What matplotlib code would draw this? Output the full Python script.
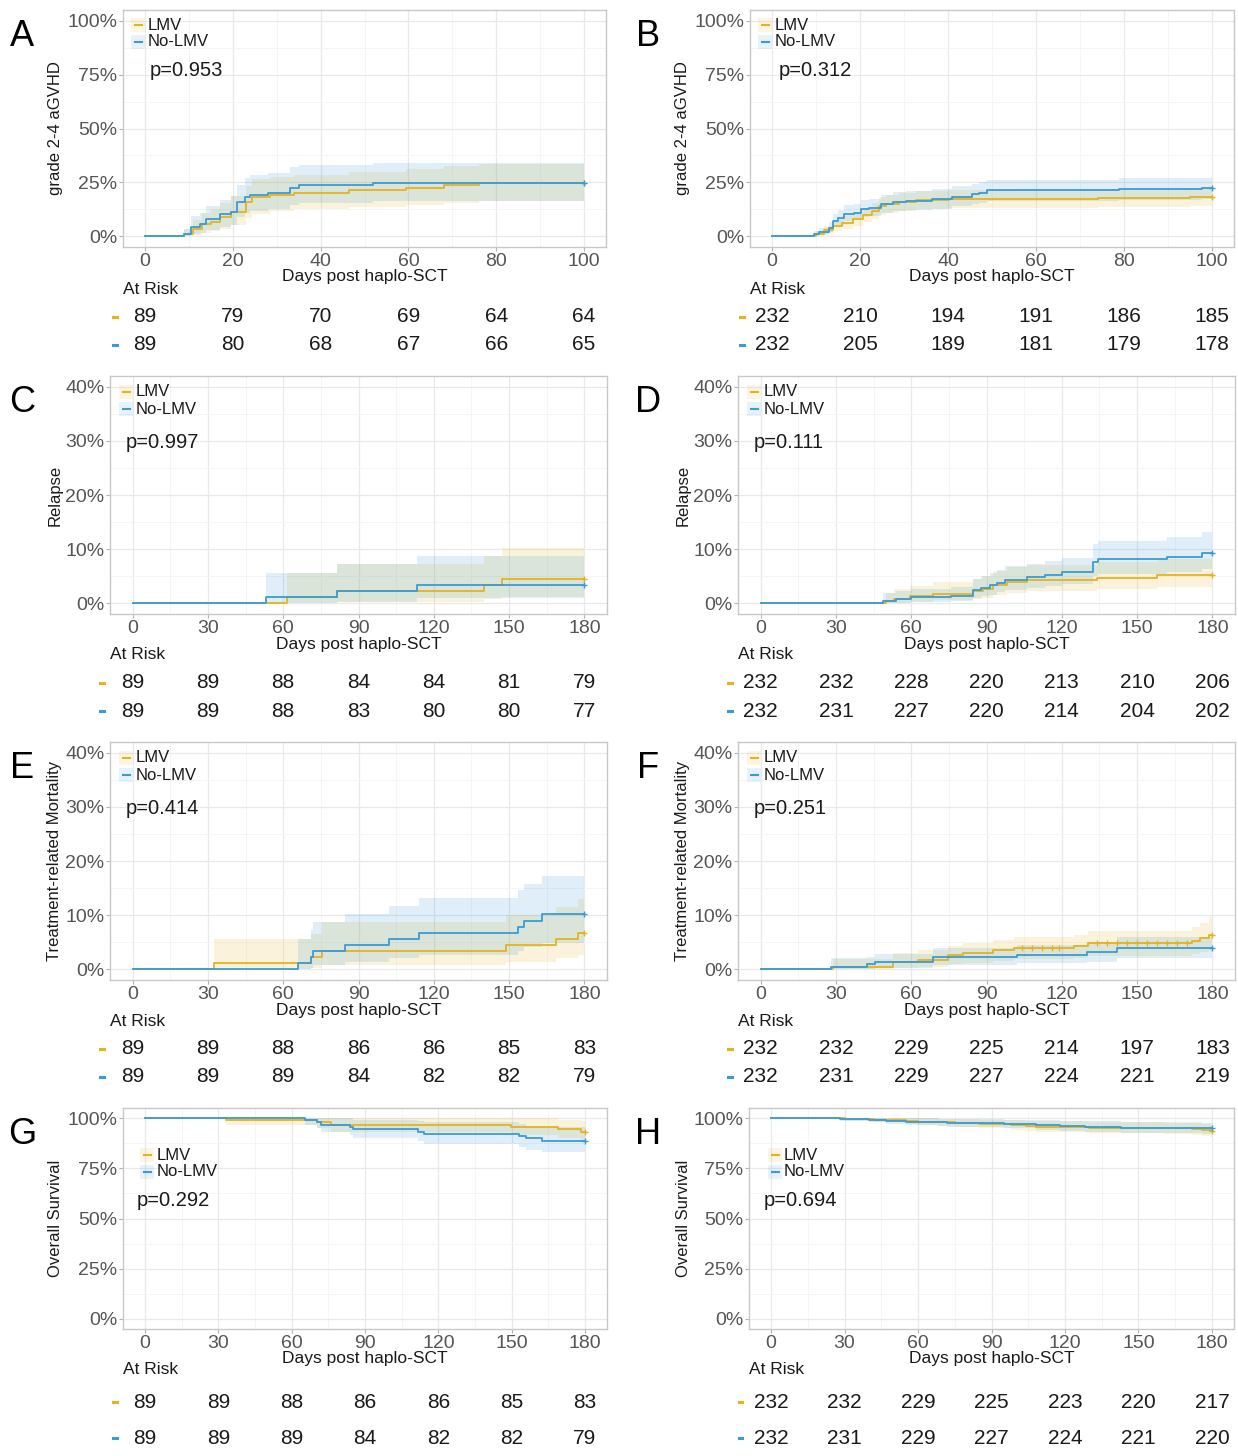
import matplotlib
matplotlib.use('Agg')
import matplotlib.pyplot as plt
import matplotlib.transforms as mtransforms
from matplotlib.patches import Rectangle
from matplotlib.lines import Line2D
import numpy as np

plt.rcParams['font.family'] = ['Liberation Sans', 'DejaVu Sans']

# ---------------- DATA (percent values) ----------------
GROUPS = ['LMV', 'No-LMV']

# Panel A: grade 2-4 aGVHD, cohort 1
A_LMV_t = [0, 9, 11, 13, 15, 17, 19.5, 23, 24.3, 28.5, 34, 46.5, 59.5, 68, 76]
A_LMV_est = [0, 1.1, 3.4, 5.6, 6.7, 9.0, 11.2, 15.7, 18.0, 19.1, 20.2, 21.3, 22.5, 23.6, 24.7]
A_LMV_lo = [0, 0, 0.5, 1.5, 2.2, 3.5, 5.0, 8.5, 10.5, 11.5, 12.5, 13.5, 14.5, 15.5, 16.5]
A_LMV_hi = [0, 3.5, 7.5, 11, 12.5, 15.5, 18.5, 23.5, 26.5, 27.5, 28.5, 30, 31, 32.5, 33.5]
A_No_t = [0, 9, 10.5, 12.5, 14, 17, 19.5, 21, 22.7, 24, 28, 33, 35, 52]
A_No_est = [0, 1.1, 4.5, 5.6, 7.9, 10.1, 11.2, 15.7, 18.0, 19.1, 20.2, 22.5, 23.6, 24.7]
A_No_lo = [0, 0, 1.0, 1.7, 3.0, 4.5, 5.3, 8.7, 10.8, 11.8, 12.7, 14.5, 15.5, 16.5]
A_No_hi = [0, 3.5, 9.5, 11, 14, 17, 18.5, 24, 27, 28.5, 29.5, 32, 33, 34]
A_risk_LMV = [89, 79, 70, 69, 64, 64]
A_risk_No = [89, 80, 68, 67, 66, 65]

# Panel B: grade 2-4 aGVHD, cohort 2
B_LMV_t = [0, 10, 11.9, 13.8, 16, 18.3, 20.6, 22.8, 24.3, 25.9, 28.9, 32.7, 40.2, 55.3, 74.2, 95]
B_LMV_est = [0, 0.9, 2.9, 4.8, 6.3, 7.9, 9.7, 11.7, 14.0, 14.8, 15.9, 16.7, 17.1, 17.4, 17.7, 18.1]
B_LMV_lo = [0, 0, 1.0, 2.3, 3.5, 4.8, 6.4, 8.0, 10.0, 10.8, 11.7, 12.5, 12.9, 13.2, 13.5, 13.8]
B_LMV_hi = [0, 2.2, 4.9, 7.4, 9.2, 11.0, 13.1, 15.5, 18.1, 19.0, 20.2, 21.0, 21.4, 21.7, 22.0, 22.5]
B_No_t = [0, 9.6, 10.7, 13, 13.8, 14.9, 16.4, 18.7, 20.2, 22.1, 24.7, 27.4, 30.4, 36.4, 41, 45.5, 47, 48.9, 78.8, 97.7]
B_No_est = [0, 0.9, 2.0, 4.0, 7.1, 8.6, 10.5, 11.0, 12.5, 13.3, 14.8, 15.9, 16.5, 17.1, 18.4, 19.4, 20.2, 21.3, 21.8, 22.2]
B_No_lo = [0, 0, 0.6, 1.8, 4.1, 5.4, 7.0, 7.4, 8.7, 9.4, 10.7, 11.7, 12.2, 12.8, 13.9, 14.8, 15.5, 16.5, 17.0, 17.4]
B_No_hi = [0, 2.2, 3.8, 6.5, 10.5, 12.2, 14.4, 15.0, 16.6, 17.5, 19.2, 20.4, 21.0, 21.7, 23.1, 24.2, 25.1, 26.3, 26.8, 27.2]
B_risk_LMV = [232, 210, 194, 191, 186, 185]
B_risk_No = [232, 205, 189, 181, 179, 178]

# Panel C: relapse, cohort 1
C_LMV_t = [0, 61.7, 81.5, 140, 147]
C_LMV_est = [0, 1.12, 2.25, 3.37, 4.49]
C_LMV_lo = [0, 0, 0.3, 0.7, 1.2]
C_LMV_hi = [0, 5.5, 7.2, 8.7, 10.2]
C_No_t = [0, 53, 81.5, 113.5]
C_No_est = [0, 1.12, 2.25, 3.37]
C_No_lo = [0, 0, 0.3, 0.9]
C_No_hi = [0, 5.5, 7.2, 8.8]
C_risk_LMV = [89, 89, 88, 84, 84, 81, 79]
C_risk_No = [89, 89, 88, 83, 80, 80, 77]

# Panel D: relapse, cohort 2
D_LMV_t = [0, 50, 53, 59.5, 68.8, 84.7, 88.5, 92.7, 98, 106, 134, 158]
D_LMV_est = [0, 0.43, 0.86, 1.29, 1.72, 2.16, 2.59, 3.45, 3.88, 4.31, 4.74, 5.17]
D_LMV_lo = [0, 0, 0.1, 0.3, 0.5, 0.8, 1.0, 1.6, 1.9, 2.3, 2.6, 2.9]
D_LMV_hi = [0, 1.8, 2.6, 3.2, 3.9, 4.5, 5.0, 6.0, 6.6, 7.1, 7.6, 8.1]
D_No_t = [0, 48.8, 54, 60, 76, 84.7, 88, 91.4, 94, 97.4, 106, 113.3, 120, 132.6, 134.6, 161.9, 175.9]
D_No_est = [0, 0.43, 0.86, 1.08, 1.4, 2.4, 2.8, 3.3, 3.8, 4.3, 4.8, 5.2, 5.7, 7.7, 8.1, 8.6, 9.2]
D_No_lo = [0, 0, 0.1, 0.2, 0.4, 1.0, 1.3, 1.6, 2.0, 2.4, 2.8, 3.1, 3.5, 5.0, 5.4, 5.8, 6.3]
D_No_hi = [0, 1.8, 2.3, 2.6, 3.0, 4.5, 5.0, 5.6, 6.2, 6.8, 7.3, 7.8, 8.4, 11.0, 11.5, 12.3, 13.2]
D_risk_LMV = [232, 232, 228, 220, 213, 210, 206]
D_risk_No = [232, 231, 227, 220, 214, 204, 202]

# Panel E: treatment-related mortality, cohort 1
E_LMV_t = [0, 32.4, 71, 75.5, 148.7, 168.8, 177.5]
E_LMV_est = [0, 1.12, 2.25, 3.37, 4.49, 5.62, 6.74]
E_LMV_lo = [0, 0, 0.3, 0.8, 1.4, 2.0, 2.6]
E_LMV_hi = [0, 5.5, 6.5, 8.8, 10, 11.5, 13]
E_No_t = [0, 65.7, 71.2, 72, 84.6, 102, 114, 153.5, 156, 163]
E_No_est = [0, 1.12, 2.25, 3.37, 4.49, 5.62, 6.74, 7.87, 8.99, 10.11]
E_No_lo = [0, 0, 0.3, 0.8, 1.4, 2.0, 2.7, 3.4, 4.1, 4.9]
E_No_hi = [0, 5.5, 7.2, 8.8, 10.2, 11.7, 13.2, 14.6, 15.8, 17.2]
E_risk_LMV = [89, 89, 88, 86, 86, 85, 83]
E_risk_No = [89, 89, 89, 84, 82, 82, 79]

# Panel F: treatment-related mortality, cohort 2
F_LMV_t = [0, 29, 52.8, 62.8, 74.8, 80.8, 92.7, 101, 125, 130.6, 171.9, 175, 178.5]
F_LMV_est = [0, 0.43, 1.3, 1.7, 2.6, 3.0, 3.5, 3.9, 4.3, 4.8, 5.3, 5.8, 6.4]
F_LMV_lo = [0, 0, 0.2, 0.4, 0.9, 1.2, 1.5, 1.8, 2.1, 2.5, 2.8, 3.1, 3.5]
F_LMV_hi = [0, 1.9, 3.0, 3.5, 4.3, 4.8, 5.4, 5.9, 6.4, 7.0, 7.8, 8.6, 9.7]
F_LMV_cens = [104, 108, 112, 116, 119, 134, 138, 142, 146, 150, 154, 158, 162, 166, 170]
F_No_t = [0, 28.2, 42.2, 45.5, 68.8, 102, 130, 142]
F_No_est = [0, 0.43, 0.9, 1.36, 2.3, 2.7, 3.2, 4.0]
F_No_lo = [0, 0, 0.1, 0.3, 0.8, 1.1, 1.4, 2.0]
F_No_hi = [0, 2.0, 2.3, 2.8, 4.0, 4.5, 5.0, 6.0]
F_risk_LMV = [232, 232, 229, 225, 214, 197, 183]
F_risk_No = [232, 231, 229, 227, 224, 221, 219]

# Panel G: overall survival, cohort 1
G_LMV_t = [0, 33.2, 70.5, 76, 149.6, 169, 178.5]
G_LMV_est = [100, 98.9, 97.8, 96.6, 95.5, 94.4, 93.3]
G_LMV_lo = [100, 96.7, 94.9, 93.2, 91.7, 90.2, 88.5]
G_LMV_hi = [100, 100, 100, 100, 99.8, 99.2, 98.6]
G_No_t = [0, 65.5, 70.3, 72, 84, 85, 111.6, 114, 152.8, 156, 162.5]
G_No_est = [100, 98.9, 97.8, 96.6, 95.5, 94.4, 93.3, 92.1, 91.0, 89.9, 88.8]
G_No_lo = [100, 96.7, 94.8, 93.0, 91.4, 89.9, 88.4, 87.0, 85.6, 84.3, 83.0]
G_No_hi = [100, 100, 100, 100, 99.8, 99.2, 98.5, 97.8, 97.0, 96.2, 95.4]
G_risk_LMV = [89, 89, 88, 86, 86, 85, 83]
G_risk_No = [89, 89, 89, 84, 82, 82, 79]

# Panel H: overall survival, cohort 2
H_LMV_t = [0, 30, 42, 55, 60, 68, 75, 85, 98, 104, 108, 130, 160, 172, 176, 179]
H_LMV_est = [100, 99.57, 99.14, 98.71, 98.28, 97.84, 97.41, 96.98, 96.55, 96.12, 95.69, 95.26, 94.83, 94.40, 93.97, 93.53]
H_LMV_lo = [100, 98.7, 98.0, 97.2, 96.6, 96.0, 95.4, 94.8, 94.2, 93.7, 93.1, 92.6, 92.0, 91.5, 91.0, 90.4]
H_LMV_hi = [100, 100, 100, 100, 100, 99.7, 99.4, 99.2, 98.9, 98.6, 98.3, 98.0, 97.7, 97.4, 97.0, 96.7]
H_No_t = [0, 28, 40, 47, 55, 68, 72, 95, 108, 118, 128, 143, 176]
H_No_est = [100, 99.57, 99.14, 98.71, 98.28, 97.84, 97.41, 96.98, 96.55, 96.12, 95.69, 95.26, 94.83]
H_No_lo = [100, 98.7, 98.0, 97.2, 96.6, 96.0, 95.4, 94.8, 94.2, 93.7, 93.1, 92.6, 92.0]
H_No_hi = [100, 100, 100, 100, 100, 99.7, 99.4, 99.2, 98.9, 98.6, 98.3, 98.0, 97.7]
H_risk_LMV = [232, 232, 229, 225, 223, 220, 217]
H_risk_No = [232, 231, 229, 227, 224, 221, 220]

P_VALUES = {'A': 'p=0.953', 'B': 'p=0.312', 'C': 'p=0.997', 'D': 'p=0.111',
            'E': 'p=0.414', 'F': 'p=0.251', 'G': 'p=0.292', 'H': 'p=0.694'}
Y_LABELS = {'A': 'grade 2-4 aGVHD', 'B': 'grade 2-4 aGVHD', 'C': 'Relapse', 'D': 'Relapse',
            'E': 'Treatment-related Mortality', 'F': 'Treatment-related Mortality',
            'G': 'Overall Survival', 'H': 'Overall Survival'}
X_LABEL = 'Days post haplo-SCT'

CURVES = {
    'A': [(A_LMV_t, A_LMV_est, A_LMV_lo, A_LMV_hi), (A_No_t, A_No_est, A_No_lo, A_No_hi)],
    'B': [(B_LMV_t, B_LMV_est, B_LMV_lo, B_LMV_hi), (B_No_t, B_No_est, B_No_lo, B_No_hi)],
    'C': [(C_LMV_t, C_LMV_est, C_LMV_lo, C_LMV_hi), (C_No_t, C_No_est, C_No_lo, C_No_hi)],
    'D': [(D_LMV_t, D_LMV_est, D_LMV_lo, D_LMV_hi), (D_No_t, D_No_est, D_No_lo, D_No_hi)],
    'E': [(E_LMV_t, E_LMV_est, E_LMV_lo, E_LMV_hi), (E_No_t, E_No_est, E_No_lo, E_No_hi)],
    'F': [(F_LMV_t, F_LMV_est, F_LMV_lo, F_LMV_hi), (F_No_t, F_No_est, F_No_lo, F_No_hi)],
    'G': [(G_LMV_t, G_LMV_est, G_LMV_lo, G_LMV_hi), (G_No_t, G_No_est, G_No_lo, G_No_hi)],
    'H': [(H_LMV_t, H_LMV_est, H_LMV_lo, H_LMV_hi), (H_No_t, H_No_est, H_No_lo, H_No_hi)],
}
RISK = {
    'A': (A_risk_LMV, A_risk_No), 'B': (B_risk_LMV, B_risk_No),
    'C': (C_risk_LMV, C_risk_No), 'D': (D_risk_LMV, D_risk_No),
    'E': (E_risk_LMV, E_risk_No), 'F': (F_risk_LMV, F_risk_No),
    'G': (G_risk_LMV, G_risk_No), 'H': (H_risk_LMV, H_risk_No),
}
CENSOR = {'F': [F_LMV_cens, []]}

# ---------------- STYLE / LAYOUT ----------------
COLORS = ['#E5B31C', '#3A9BD6']
BAND_ALPHA = 0.16
W, H = 1238, 1456
fig = plt.figure(figsize=(W / 100, H / 100), dpi=100)
fig.patch.set_facecolor('white')

LAYOUT = {
    'A': dict(box=(123, 10, 606, 247), xmax=100, xstep=20, ymax=100, ystep=25, ylx=56, letter=(22, 37), pv=(150, 70), legtop=15, legdx=(15, 25), risk=(42, 70, 98)),
    'B': dict(box=(750, 10, 1234, 247), xmax=100, xstep=20, ymax=100, ystep=25, ylx=683, letter=(648, 37), pv=(779, 70), legtop=15, legdx=(15, 25), risk=(42, 70, 98)),
    'C': dict(box=(110, 376, 607, 614), xmax=180, xstep=30, ymax=40, ystep=10, ylx=55, letter=(22, 403), pv=(126, 442), legtop=16, legdx=(16, 26), risk=(41, 69, 97)),
    'D': dict(box=(738, 376, 1235, 614), xmax=180, xstep=30, ymax=40, ystep=10, ylx=683, letter=(648, 403), pv=(754, 442), legtop=16, legdx=(16, 26), risk=(41, 69, 97)),
    'E': dict(box=(110, 742, 607, 980), xmax=180, xstep=30, ymax=40, ystep=10, ylx=55, letter=(22, 769), pv=(126, 808), legtop=16, legdx=(16, 26), risk=(41, 69, 97)),
    'F': dict(box=(738, 742, 1235, 980), xmax=180, xstep=30, ymax=40, ystep=10, ylx=683, letter=(648, 769), pv=(754, 808), legtop=16, legdx=(16, 26), risk=(41, 69, 97)),
    'G': dict(box=(123, 1108, 607, 1329), xmax=180, xstep=30, ymax=100, ystep=25, ylx=55, letter=(22, 1135), pv=(137, 1200), legtop=47, legdx=(24, 34), risk=(40, 73, 109)),
    'H': dict(box=(749, 1108, 1234, 1329), xmax=180, xstep=30, ymax=100, ystep=25, ylx=683, letter=(648, 1135), pv=(764, 1200), legtop=47, legdx=(26, 35), risk=(40, 73, 109)),
}

TXT = '#1a1a1a'


def fx(x):
    return x / W


def fy(y):
    return 1 - y / H


def ftext(x, y, s, **kw):
    kw.setdefault('color', TXT)
    fig.text(fx(x), fy(y), s, **kw)


for key, L in LAYOUT.items():
    l, t, r, b = L['box']
    ax = fig.add_axes([fx(l), fy(b), (r - l) / W, (b - t) / H])
    xmax, xstep, ymax, ystep = L['xmax'], L['xstep'], L['ymax'], L['ystep']
    ax.set_xlim(-0.05 * xmax, 1.05 * xmax)
    ax.set_ylim(-0.05 * ymax, 1.05 * ymax)
    xt = np.arange(0, xmax + 1, xstep)
    yt = np.arange(0, ymax + 1, ystep)
    ax.set_xticks(xt)
    ax.set_yticks(yt)
    ax.set_xticks(np.arange(xstep / 2, xmax, xstep), minor=True)
    ax.set_yticks(np.arange(ystep / 2, ymax, ystep), minor=True)
    ax.set_yticklabels([f'{int(v)}%' for v in yt])
    ax.set_xticklabels([str(int(v)) for v in xt])
    ax.grid(which='major', color='#e9e9e9', lw=0.9)
    ax.grid(which='minor', color='#f4f4f4', lw=0.6)
    ax.set_axisbelow(True)
    for s in ax.spines.values():
        s.set_color('#c8c8c8')
        s.set_linewidth(1.0)
    ax.tick_params(which='major', length=3, width=0.8, color='#b3b3b3',
                   labelsize=14, labelcolor='#555555', pad=1.0)
    ax.tick_params(which='minor', length=0)

    curves = CURVES[key]
    for gi, (tt, est, lo, hi) in enumerate(curves):
        t2 = list(tt) + [xmax]
        lo2 = list(lo) + [lo[-1]]
        hi2 = list(hi) + [hi[-1]]
        ax.fill_between(t2, lo2, hi2, step='post', color=COLORS[gi], alpha=BAND_ALPHA, lw=0)
    for gi, (tt, est, lo, hi) in enumerate(curves):
        t2 = list(tt) + [xmax]
        e2 = list(est) + [est[-1]]
        ax.step(t2, e2, where='post', color=COLORS[gi], lw=1.3)
        ax.plot([xmax], [est[-1]], marker='+', ms=5, mew=1.0, color=COLORS[gi])
        if key in CENSOR and CENSOR[key][gi]:
            cs = np.array(CENSOR[key][gi])
            idx = np.searchsorted(np.array(tt), cs, side='right') - 1
            ax.plot(cs, np.array(est)[idx], ls='none', marker='+', ms=4, mew=0.9, color=COLORS[gi])

    ftext(L['letter'][0], L['letter'][1], key, fontsize=26, ha='center', va='center', color='black')
    ftext(L['ylx'], (t + b) / 2, Y_LABELS[key], fontsize=12, rotation=90, ha='center', va='center')
    ftext((l + r) / 2, b + 30, X_LABEL, fontsize=12.5, ha='center', va='center')
    ftext(L['pv'][0], L['pv'][1], P_VALUES[key], fontsize=14.5, ha='left', va='center')

    for gi, name in enumerate(GROUPS):
        yy = t + L['legtop'] + 17 * gi
        kx = l + L['legdx'][0]
        fig.add_artist(Rectangle((fx(kx - 7), fy(yy + 7)), 14 / W, 14 / H, transform=fig.transFigure,
                                 facecolor=COLORS[gi], alpha=0.12, lw=0))
        fig.add_artist(Line2D([fx(kx - 3.5), fx(kx + 3.5)], [fy(yy), fy(yy)], transform=fig.transFigure,
                              color=COLORS[gi], lw=1.5))
        ftext(l + L['legdx'][1], yy, name, fontsize=12, ha='left', va='center')

    d0, d1, d2 = L['risk']
    ftext(l, b + d0, 'At Risk', fontsize=12.5, ha='left', va='center')
    trans = mtransforms.blended_transform_factory(ax.transData, fig.transFigure)
    for gi, (row, dy) in enumerate(zip(RISK[key], (d1, d2))):
        yy = b + dy
        fig.add_artist(Line2D([fx(l - 10.5), fx(l - 6.5)], [fy(yy), fy(yy)], transform=fig.transFigure,
                              color=COLORS[gi], lw=2.2))
        for xv, n in zip(xt, row):
            ax.text(xv, fy(yy), str(n), transform=trans, ha='center', va='center',
                    fontsize=15, color=TXT, clip_on=False)

fig.savefig('out.png', dpi=100, facecolor='white')
